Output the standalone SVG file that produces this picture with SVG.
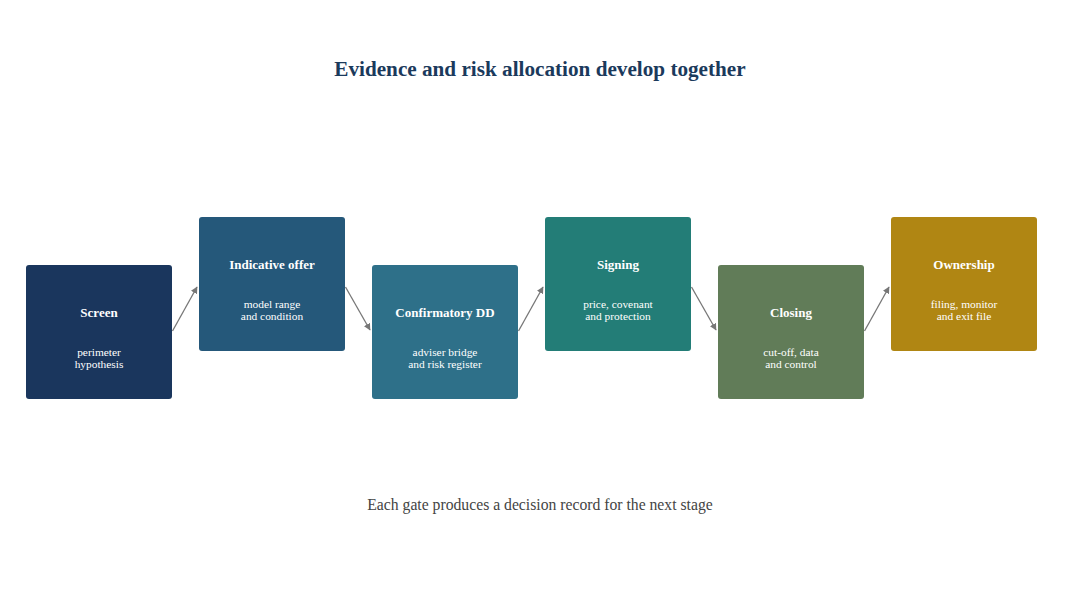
<svg xmlns="http://www.w3.org/2000/svg" width="1080" height="590" viewBox="0 0 1080 590">
<defs>
<style>
.box{stroke:none}
.t{font-family:"Liberation Serif","Times New Roman",serif;fill:#ffffff;text-anchor:middle}
.h{font-size:13px;font-weight:bold}
.s{font-size:11.4px}
.edge{stroke:#777777;stroke-width:1.3;fill:none;marker-end:url(#ah)}
</style>
<marker id="ah" viewBox="0 0 10 10" refX="9" refY="5" markerWidth="7" markerHeight="7" orient="auto" markerUnits="userSpaceOnUse">
<path d="M0,0 L10,5 L0,10 z" fill="#777777"/>
</marker>
</defs>
<rect width="1080" height="590" fill="#ffffff"/>
<text x="540" y="76" font-family="Liberation Serif,'Times New Roman',serif" font-size="21.2" font-weight="bold" fill="#1b3a5c" text-anchor="middle">Evidence and risk allocation develop together</text>
<g id="connectors">
<line class="edge" x1="172.5" y1="331" x2="197" y2="287"/>
<line class="edge" x1="345.5" y1="287" x2="370" y2="330"/>
<line class="edge" x1="518.5" y1="331" x2="543" y2="287"/>
<line class="edge" x1="691.5" y1="287" x2="716" y2="330"/>
<line class="edge" x1="864.5" y1="331" x2="889" y2="287"/>
</g>
<g id="screen">
<rect class="box" x="26" y="265" width="146" height="134" rx="3" fill="#1a365d"/>
<text class="t h" x="99" y="317">Screen</text>
<text class="t s" x="99" y="356">perimeter</text>
<text class="t s" x="99" y="368">hypothesis</text>
</g>
<g id="indicative">
<rect class="box" x="199" y="217" width="146" height="134" rx="3" fill="#25587a"/>
<text class="t h" x="272" y="269">Indicative offer</text>
<text class="t s" x="272" y="308">model range</text>
<text class="t s" x="272" y="320">and condition</text>
</g>
<g id="confirmatory">
<rect class="box" x="372" y="265" width="146" height="134" rx="3" fill="#2e7089"/>
<text class="t h" x="445" y="317">Confirmatory DD</text>
<text class="t s" x="445" y="356">adviser bridge</text>
<text class="t s" x="445" y="368">and risk register</text>
</g>
<g id="signing">
<rect class="box" x="545" y="217" width="146" height="134" rx="3" fill="#237d77"/>
<text class="t h" x="618" y="269">Signing</text>
<text class="t s" x="618" y="308">price, covenant</text>
<text class="t s" x="618" y="320">and protection</text>
</g>
<g id="closing">
<rect class="box" x="718" y="265" width="146" height="134" rx="3" fill="#617c58"/>
<text class="t h" x="791" y="317">Closing</text>
<text class="t s" x="791" y="356">cut-off, data</text>
<text class="t s" x="791" y="368">and control</text>
</g>
<g id="ownership">
<rect class="box" x="891" y="217" width="146" height="134" rx="3" fill="#b08613"/>
<text class="t h" x="964" y="269">Ownership</text>
<text class="t s" x="964" y="308">filing, monitor</text>
<text class="t s" x="964" y="320">and exit file</text>
</g>
<text x="540" y="510" font-family="Liberation Serif,'Times New Roman',serif" font-size="15.7" fill="#444444" text-anchor="middle">Each gate produces a decision record for the next stage</text>
</svg>
